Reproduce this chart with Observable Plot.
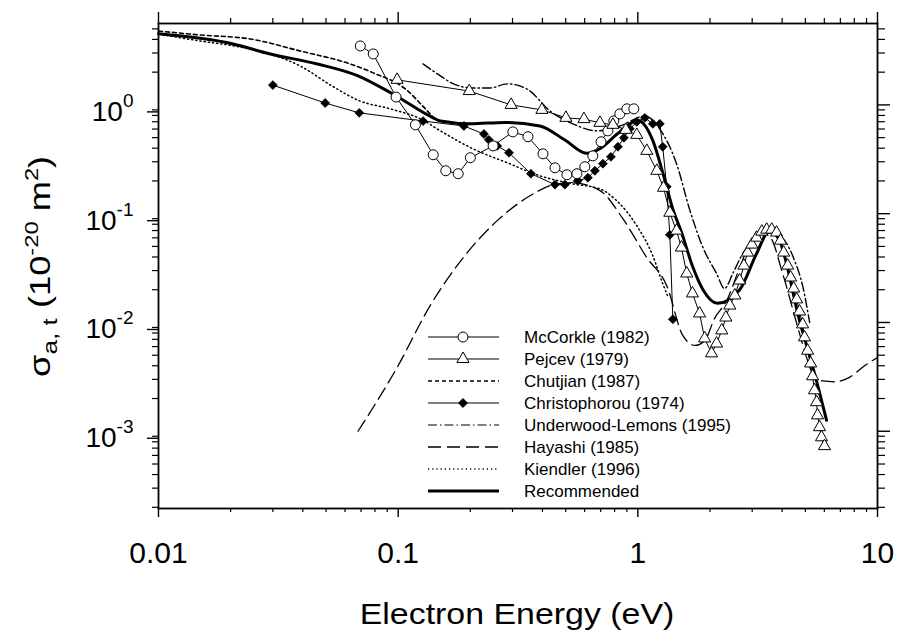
<!DOCTYPE html>
<html><head><meta charset="utf-8">
<script src="https://cdn.jsdelivr.net/npm/d3@7"></script>
<script src="https://cdn.jsdelivr.net/npm/@observablehq/plot@0.6"></script>
<style>body{margin:0;background:#fff}#chart svg{display:block}</style>
</head><body><div id="chart"></div>
<script>
// ---- data (electron energy in eV, cross section in 1e-20 m^2) ----
const mccorkleE = [0.0695,0.0787,0.098,0.118,0.140,0.158,0.178,0.200,0.249,0.301,0.348,0.402,0.451,0.506,0.557,0.601,0.649,0.702,0.750,0.794,0.841,0.900,0.962];
const mccorkleS = [3.48,2.94,1.18,0.656,0.348,0.248,0.233,0.327,0.42,0.565,0.51,0.355,0.264,0.228,0.233,0.27,0.34,0.458,0.577,0.713,0.827,0.92,0.92];

const pejcevE = [0.099,0.198,0.296,0.398,0.501,0.596,0.695,0.787,0.891,0.99,1.09,1.2,1.28,1.36,1.45,1.52,1.6,1.69,1.81,1.9,2.03,2.13,2.24,2.33,2.42,2.54,2.66,2.77,2.87,2.99,3.13,3.29,3.45,3.62,3.79,3.94,4.06,4.22,4.34,4.47,4.6,4.73,4.87,4.96,5.11,5.26,5.36,5.46,5.57,5.62,5.73,5.84,6.01];
const pejcevS = [1.70,1.34,1.00,0.90,0.76,0.74,0.684,0.656,0.59,0.53,0.378,0.248,0.173,0.102,0.0698,0.0488,0.0282,0.0185,0.0121,0.00713,0.0052,0.0064,0.00845,0.0111,0.0143,0.0177,0.0243,0.0333,0.0439,0.052,0.0602,0.0684,0.0713,0.0713,0.067,0.0565,0.0439,0.0333,0.0259,0.0205,0.0163,0.0126,0.0096,0.0073,0.0055,0.0042,0.0032,0.00238,0.00185,0.0014,0.00109,0.00088,0.00073];

const chutjianE = [0.01,0.015,0.0242,0.039,0.063,0.0787,0.109,0.127,0.145,0.16];
const chutjianS = [4.77,4.39,4.03,3.13,2.38,1.97,1.36,0.97,0.73,0.69];

const christophorouE = [0.03,0.0496,0.0688,0.127,0.188,0.228,0.239,0.259,0.29,0.358,0.451,0.496,0.562,0.619,0.662,0.715,0.772,0.826,0.875,0.926,0.99,1.07,1.155,1.235,1.27,1.32,1.36,1.40];
const christophorouS = [1.52,1.04,0.845,0.71,0.64,0.54,0.477,0.42,0.363,0.233,0.185,0.185,0.201,0.214,0.248,0.288,0.333,0.412,0.498,0.603,0.698,0.76,0.67,0.67,0.412,0.177,0.064,0.0107];

const underwoodE = [0.127,0.15,0.17,0.205,0.242,0.285,0.345,0.43,0.536,0.675,0.841,1.07,1.235,1.45,1.65,1.87,2.13,2.3,2.49,2.74,3.13,3.65,4.1,4.51,4.87,5.21];
const underwoodS = [2.38,1.85,1.56,1.43,1.43,1.56,1.40,0.88,0.67,0.577,0.64,0.79,0.60,0.288,0.107,0.0488,0.0282,0.0205,0.0282,0.043,0.059,0.067,0.0565,0.037,0.0218,0.01];

const hayashiE = [0.068,0.099,0.136,0.187,0.259,0.355,0.46,0.536,0.695,0.866,1.09,1.32,1.54,1.73,1.9,2.09,2.35,2.66,2.93,3.22,3.55,4.02,4.6,5.06,5.46,5.9,6.62,7.64,8.83,9.9];
const hayashiS = [0.001,0.00386,0.0143,0.0395,0.0863,0.146,0.188,0.192,0.163,0.09,0.0395,0.0218,0.0076,0.00615,0.0068,0.0109,0.0159,0.0318,0.053,0.067,0.0616,0.0282,0.0098,0.00478,0.00313,0.0029,0.00285,0.00313,0.0040,0.0047];

const kiendlerE = [0.01,0.015,0.022,0.029,0.039,0.052,0.069,0.0926,0.124,0.15,0.205,0.285,0.39,0.536,0.695,0.815,0.99,1.155,1.27,1.33];
const kiendlerS = [4.48,3.86,3.4,2.94,2.28,1.53,1.09,0.92,0.744,0.577,0.395,0.294,0.223,0.188,0.169,0.132,0.0775,0.041,0.0228,0.0177];

const recommendedE = [0.01,0.0205,0.029,0.046,0.068,0.095,0.14,0.15,0.2,0.28,0.39,0.5,0.61,0.7,0.82,1.0,1.155,1.27,1.4,1.52,1.69,1.87,2.15,2.66,3.13,3.55,3.9,4.73,5.46,6.13];
const recommendedS = [4.5,3.63,2.95,2.38,1.85,1.26,0.76,0.71,0.67,0.69,0.64,0.47,0.36,0.40,0.54,0.72,0.47,0.24,0.11,0.068,0.033,0.02,0.015,0.02,0.043,0.07,0.0565,0.0104,0.0034,0.00126];

const seriesNames = ["McCorkle (1982)","Pejcev (1979)","Chutjian (1987)","Christophorou (1974)","Underwood-Lemons (1995)","Hayashi (1985)","Kiendler (1996)","Recommended"];

const xMajor = [0.01,0.1,1,10];
const xTickLabels = ["0.01","0.1","1","10"];
const yMajor = [0.001,0.01,0.1,1];
const yTickExponents = ["-3","-2","-1","0"];
const xTitle = "Electron Energy (eV)";

// ---- helpers ----
const rows = (E, S) => E.map((e, i) => ({E: e, S: S[i]}));
const mcc = rows(mccorkleE, mccorkleS);
const pej = rows(pejcevE, pejcevS);
const chu = rows(chutjianE, chutjianS);
const chr = rows(christophorouE, christophorouS);
const und = rows(underwoodE, underwoodS);
const hay = rows(hayashiE, hayashiS);
const kie = rows(kiendlerE, kiendlerS);
const rec = rows(recommendedE, recommendedS);

const xDomain = [0.01, 10], yDomain = [1.95e-4, 5.6];
const mult = [2,3,4,5,6,7,8,9];
const xMinor = [0.01,0.1,1].flatMap(d => mult.map(k => k*d)).filter(v => v > xDomain[0] && v < xDomain[1]);
const yMinor = [1e-4,1e-3,1e-2,1e-1,1].flatMap(d => mult.map(k => k*d)).filter(v => v > yDomain[0] && v < yDomain[1]);

const FONT = "'Liberation Sans', Arial, Helvetica, sans-serif";
const none = () => "";

const styles = {
  dashChutjian: "4,3",
  dashUnderwood: "9,3,1.5,3",
  dashHayashi: "13,6",
  dashKiendler: "1.2,3"
};

const chart = Plot.plot({
  width: 899, height: 630,
  marginLeft: 158, marginRight: 22, marginTop: 23, marginBottom: 122,
  x: {type: "log", domain: xDomain},
  y: {type: "log", domain: yDomain},
  style: {fontFamily: FONT, background: "white", color: "black"},
  marks: [
    Plot.axisX({anchor: "bottom", ticks: xMinor, tickSize: 4, tickFormat: none, label: null, strokeWidth: 1.2}),
    Plot.axisX({anchor: "bottom", ticks: xMajor, tickSize: 9, tickPadding: 24, fontSize: 30, label: null, strokeWidth: 1.4,
      tickFormat: d => xTickLabels[xMajor.indexOf(d)]}),
    Plot.axisX({anchor: "top", ticks: xMinor, tickSize: 6, tickFormat: none, label: null, strokeWidth: 1.2}),
    Plot.axisX({anchor: "top", ticks: xMajor, tickSize: 12, tickFormat: none, label: null, strokeWidth: 1.4}),
    Plot.axisY({anchor: "left", ticks: yMinor, tickSize: 6, tickFormat: none, label: null, strokeWidth: 1.2}),
    Plot.axisY({anchor: "left", ticks: yMajor, tickSize: 11, tickPadding: 14, fontSize: 28, dy: 7, label: null, strokeWidth: 1.4,
      tickFormat: d => "10^" + yTickExponents[yMajor.indexOf(d)]}),
    Plot.axisY({anchor: "right", ticks: yMinor, tickSize: 7, tickFormat: none, label: null, strokeWidth: 1.2}),
    Plot.axisY({anchor: "right", ticks: yMajor, tickSize: 12, tickFormat: none, label: null, strokeWidth: 1.4}),
    Plot.frame({stroke: "black", strokeWidth: 1.8}),
    Plot.line(hay, {x: "E", y: "S", stroke: "black", strokeWidth: 1.3, strokeDasharray: styles.dashHayashi, curve: "monotone-x"}),
    Plot.line(kie, {x: "E", y: "S", stroke: "black", strokeWidth: 1.5, strokeDasharray: styles.dashKiendler, curve: "monotone-x"}),
    Plot.line(chu, {x: "E", y: "S", stroke: "black", strokeWidth: 1.6, strokeDasharray: styles.dashChutjian, curve: "monotone-x"}),
    Plot.line(und, {x: "E", y: "S", stroke: "black", strokeWidth: 1.4, strokeDasharray: styles.dashUnderwood, curve: "monotone-x"}),
    Plot.line(rec, {x: "E", y: "S", stroke: "black", strokeWidth: 3, curve: "monotone-x"}),
    Plot.line(mcc, {x: "E", y: "S", stroke: "black", strokeWidth: 1}),
    Plot.line(pej, {x: "E", y: "S", stroke: "black", strokeWidth: 1}),
    Plot.line(chr, {x: "E", y: "S", stroke: "black", strokeWidth: 1}),
    Plot.dot(chr, {x: "E", y: "S", symbol: "diamond2", r: 4, fill: "black", stroke: "black", strokeWidth: 0.8}),
    Plot.dot(mcc, {x: "E", y: "S", symbol: "circle", r: 5, fill: "white", stroke: "black", strokeWidth: 1}),
    Plot.dot(pej, {x: "E", y: "S", symbol: "triangle", r: 4.5, fill: "white", stroke: "black", strokeWidth: 1})
  ]
});
document.getElementById("chart").appendChild(chart);

const svg = d3.select(chart);

// superscripts on y tick labels
svg.selectAll("text").each(function() {
  const t = this.textContent;
  if (t.startsWith("10^")) {
    const exp = t.slice(3);
    this.textContent = "10";
    d3.select(this).append("tspan").attr("dy", "-14").attr("font-size", "19").text(exp);
  }
});

// axis titles
svg.append("text")
  .attr("transform", "translate(517,624) scale(1.13,1)")
  .attr("text-anchor", "middle").attr("font-family", FONT).attr("font-size", 30).attr("fill", "black")
  .text(xTitle);

const yt = svg.append("text")
  .attr("transform", "translate(50,377) rotate(-90) scale(1.25,1)")
  .attr("text-anchor", "start").attr("font-family", FONT).attr("font-size", 29).attr("fill", "black");
yt.append("tspan").text("σ");
yt.append("tspan").attr("font-size", 21).attr("dy", 7).text("a, t");
yt.append("tspan").attr("dy", -7).text(" (10");
yt.append("tspan").attr("font-size", 19).attr("dy", -12).text("-20");
yt.append("tspan").attr("dy", 12).text(" m");
yt.append("tspan").attr("font-size", 19).attr("dy", -12).text("2");
yt.append("tspan").attr("dy", 12).text(")");

// legend
const legendStyles = [
  {w: 1, dash: null, sym: d3.symbolCircle, r: 5, fill: "white"},
  {w: 1, dash: null, sym: d3.symbolTriangle, r: 4.5, fill: "white"},
  {w: 1.4, dash: styles.dashChutjian},
  {w: 1, dash: null, sym: d3.symbolDiamond2, r: 4, fill: "black"},
  {w: 1.2, dash: styles.dashUnderwood},
  {w: 1.3, dash: styles.dashHayashi},
  {w: 1.5, dash: styles.dashKiendler},
  {w: 3, dash: null}
];
const lg = svg.append("g").attr("font-family", FONT).attr("font-size", 17).attr("fill", "black").attr("text-anchor", "start");
seriesNames.forEach((name, i) => {
  const y = 337 + i * 22;
  const s = legendStyles[i];
  lg.append("line").attr("x1", 428).attr("x2", 499).attr("y1", y).attr("y2", y)
    .attr("stroke", "black").attr("stroke-width", s.w).attr("stroke-dasharray", s.dash);
  if (s.sym) {
    lg.append("path").attr("d", d3.symbol(s.sym, Math.PI * s.r * s.r)())
      .attr("transform", `translate(463,${y})`).attr("fill", s.fill).attr("stroke", "black").attr("stroke-width", 1);
  }
  lg.append("text").attr("x", 524).attr("y", y).attr("dy", "0.36em").attr("text-anchor", "start").text(name);
});
</script>
</body></html>
